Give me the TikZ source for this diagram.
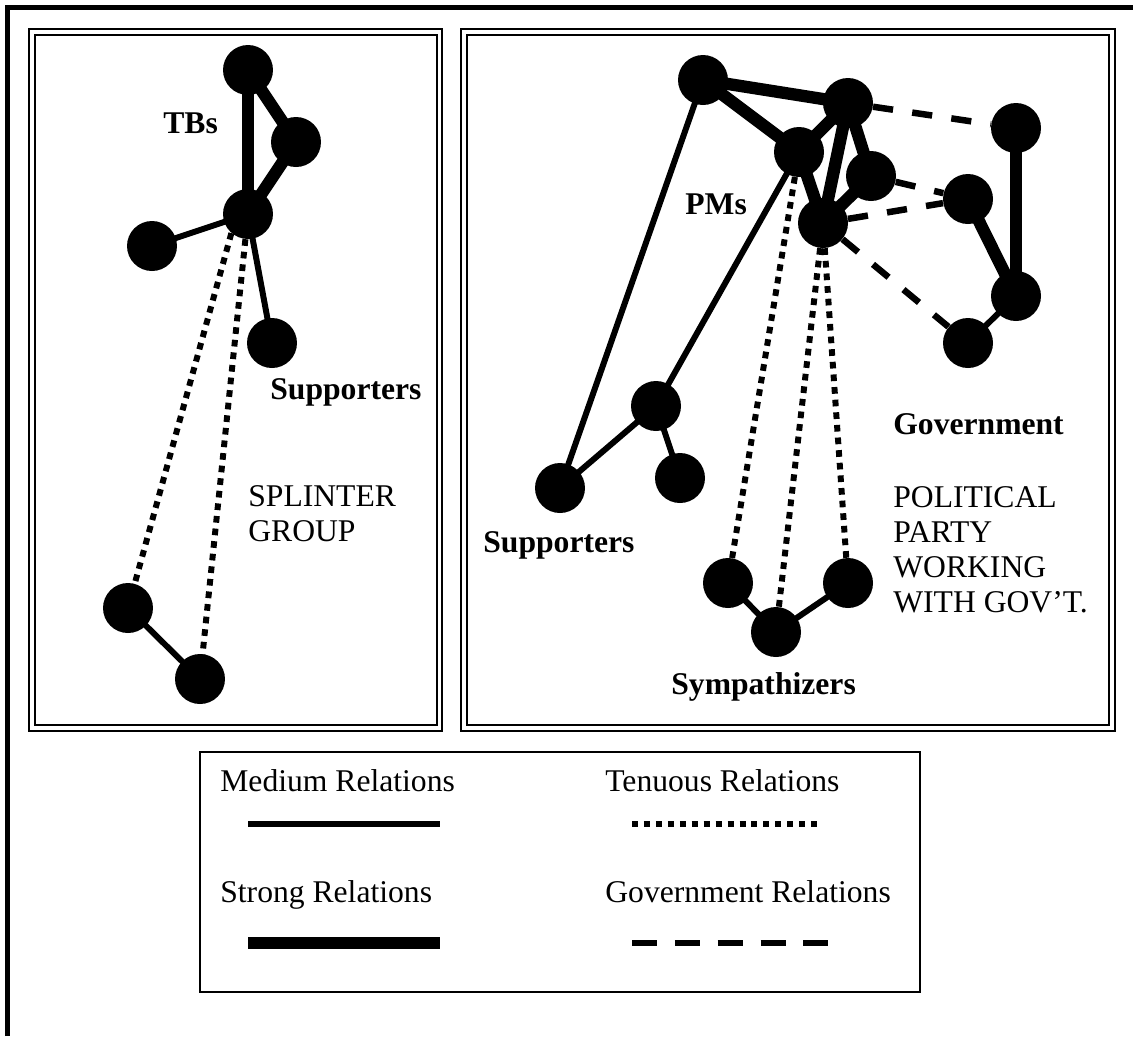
\documentclass[tikz,border=0pt]{standalone}
\usepackage{fontspec}
\setmainfont{Liberation Serif}
\pgfdeclarelayer{background}
\pgfsetlayers{background,main}
\begin{document}
\begin{tikzpicture}[x=0.02cm,y=-0.02cm,
  actor/.style={circle,fill=black,minimum size=1cm,inner sep=0pt},
  medium/.style={line width=3.4pt},
  strong/.style={line width=7pt},
  tenuous/.style={line width=3.4pt,dash pattern=on 3.8pt off 3.4pt},
  govrel/.style={line width=3.7pt,dash pattern=on 11.5pt off 11pt},
  lbl/.style={font=\fontsize{18pt}{20pt}\selectfont,inner sep=0pt},
  blbl/.style={font=\fontsize{18pt}{20pt}\selectfont\bfseries,inner sep=0pt},
  frame/.style={line width=1.5pt}]
\useasboundingbox (0,0) rectangle (1133,1036);

% outer border (top and left edges)
\draw[line width=2.8pt] (7.5,1036) -- (7.5,7.5) -- (1133,7.5);

% panel frames (double lines)
\draw[frame] (29,29) rectangle (442,731);
\draw[line width=1.2pt] (35,35) rectangle (437,725);
\draw[frame] (461,29) rectangle (1115,731);
\draw[line width=1.2pt] (467,35) rectangle (1109,725);

% ---- splinter group ----
\node[actor] (t1) at (248,70) {};
\node[actor] (t2) at (296,142) {};
\node[actor] (t3) at (248,214) {};
\node[actor] (l1) at (152,246) {};
\node[actor] (s1) at (272,343) {};
\node[actor] (b1) at (128,608) {};
\node[actor] (b2) at (200,679) {};

% ---- political party ----
\node[actor] (p1) at (703,80) {};
\node[actor] (p2) at (848,103) {};
\node[actor] (p3) at (799,152) {};
\node[actor] (p4) at (871,176) {};
\node[actor] (p5) at (823,223) {};
\node[actor] (g1) at (1016,128) {};
\node[actor] (g2) at (968,199) {};
\node[actor] (g3) at (1016,296) {};
\node[actor] (g4) at (968,343) {};
\node[actor] (ra) at (656,406) {};
\node[actor] (rb) at (680,478) {};
\node[actor] (rc) at (560,488) {};
\node[actor] (ya) at (728,583) {};
\node[actor] (yb) at (776,632) {};
\node[actor] (yc) at (848,583) {};

\begin{pgfonlayer}{background}
  % splinter group ties
  \draw[strong] (t1.center) -- (t3.center);
  \draw[strong] (t1.center) -- (t2.center);
  \draw[strong] (t2.center) -- (t3.center);
  \draw[medium] (t3.center) -- (l1.center);
  \draw[medium] (t3.center) -- (s1.center);
  \draw[tenuous] (t3.229) -- (b1.center);
  \draw[tenuous] (t3.center) -- (b2.center);
  \draw[medium] (b1.center) -- (b2.center);
  % party core
  \draw[strong] (p1.center) -- (p2.center);
  \draw[strong] (p1.center) -- (p3.center);
  \draw[strong] (p3.center) -- (p2.center);
  \draw[strong] (p2.center) -- (p4.center);
  \draw[strong] (p2.center) -- (p5.center);
  \draw[strong] (p3.center) -- (p5.center);
  \draw[strong] (p4.center) -- (p5.center);
  % government
  \draw[strong] (g1.center) -- (g3.center);
  \draw[strong] (g2.center) -- (g3.center);
  \draw[medium] (g3.center) -- (g4.center);
  \draw[govrel] (p2) -- (g1);
  \draw[govrel] (p4) -- (g2);
  \draw[govrel] (p5) -- (g2);
  \draw[govrel] (p5) -- (g4);
  % supporters
  \draw[medium] (p1.center) -- (rc.center);
  \draw[medium] (p3.center) -- (ra.center);
  \draw[medium] (ra.center) -- (rc.center);
  \draw[medium] (ra.center) -- (rb.center);
  % sympathizers
  \draw[tenuous] (p3.center) -- (ya.center);
  \draw[tenuous] (p5.center) -- (yb.center);
  \draw[tenuous] (p5.center) -- (yc.center);
  \draw[medium] (ya.center) -- (yb.center);
  \draw[medium] (yb.center) -- (yc.center);
\end{pgfonlayer}

% labels
\node[blbl,anchor=base west] (tbs) at (163,133) {TBs};
\node[blbl,anchor=base west] (sup1) at (270,399) {Supporters};
\node[lbl,anchor=base west] (spl1) at (248,506) {SPLINTER};
\node[lbl,anchor=base west] (spl2) at (248,541) {GROUP};
\node[blbl,anchor=base west] (pms) at (685,214) {PMs};
\node[blbl,anchor=base west] (sup2) at (483,552) {Supporters};
\node[blbl,anchor=base west] (gov) at (893,434) {Government};
\node[lbl,anchor=base west] (pp1) at (893,507) {POLITICAL};
\node[lbl,anchor=base west] (pp2) at (893,542) {PARTY};
\node[lbl,anchor=base west] (pp3) at (893,577) {WORKING};
\node[lbl,anchor=base west] (pp4) at (893,612) {WITH GOV'T.};
\node[blbl,anchor=base west] (sym) at (671,694) {Sympathizers};

% legend
\draw[line width=1.3pt] (200,752) rectangle (920,992);
\node[lbl,anchor=base west] (lm) at (220,791) {Medium Relations};
\node[lbl,anchor=base west] (ls) at (220,902) {Strong Relations};
\node[lbl,anchor=base west] (lt) at (605,791) {Tenuous Relations};
\node[lbl,anchor=base west] (lg) at (605,902) {Government Relations};
\coordinate (lm1) at (248,824); \coordinate (lm2) at (440,824);
\coordinate (ls1) at (248,943); \coordinate (ls2) at (440,943);
\coordinate (lt1) at (632,824); \coordinate (lt2) at (822,824);
\coordinate (lg1) at (632,943); \coordinate (lg2) at (829,943);
\draw[medium] (lm1) -- (lm2);
\draw[strong] (ls1) -- (ls2);
\draw[line width=3.4pt,dash pattern=on 3.4pt off 3.4pt] (lt1) -- (lt2);
\draw[line width=3.9pt,dash pattern=on 14.2pt off 10.2pt] (lg1) -- (lg2);
\end{tikzpicture}
\end{document}
